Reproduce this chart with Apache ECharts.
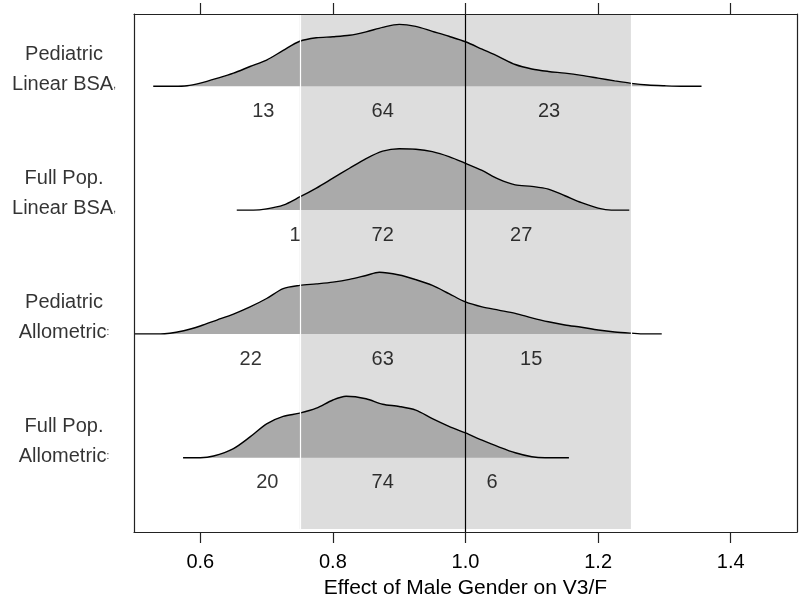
<!DOCTYPE html>
<html><head><meta charset="utf-8">
<script src="https://cdn.jsdelivr.net/npm/echarts@6/dist/echarts.min.js"></script>
<style>html,body{margin:0;padding:0;background:#fff}#c{width:800px;height:604px}</style>
</head><body><div id="c"></div>
<script>
// ---- data ----
const rowTop = ['Pediatric', 'Full Pop.', 'Pediatric', 'Full Pop.'];
const rowBottom = ['Linear BSA', 'Linear BSA', 'Allometric', 'Allometric'];
const rowSuffix = [',', ',', ':', ':'];

const densPedLinear = [[0.529,0],[0.56,0],[0.58,0.02],[0.60,0.13],[0.625,0.32],[0.65,0.53],[0.675,0.8],[0.70,1.06],[0.725,1.45],[0.75,1.82],[0.775,1.96],[0.80,2.0],[0.825,2.06],[0.85,2.2],[0.875,2.38],[0.90,2.5],[0.925,2.42],[0.95,2.22],[0.975,2.02],[1.0,1.8],[1.025,1.5],[1.05,1.2],[1.075,0.88],[1.10,0.7],[1.125,0.6],[1.15,0.53],[1.175,0.44],[1.20,0.33],[1.225,0.22],[1.25,0.12],[1.275,0.05],[1.30,0.02],[1.33,0],[1.356,0]];
const densFullLinear = [[0.655,0],[0.68,0],[0.70,0.05],[0.725,0.2],[0.75,0.53],[0.775,0.89],[0.80,1.29],[0.825,1.69],[0.85,2.08],[0.875,2.38],[0.90,2.48],[0.925,2.46],[0.95,2.36],[0.975,2.16],[1.0,1.89],[1.025,1.6],[1.05,1.25],[1.075,1.02],[1.10,0.96],[1.125,0.85],[1.15,0.58],[1.175,0.3],[1.20,0.08],[1.22,0],[1.247,0]];
const densPedAllo = [[0.5,0],[0.54,0],[0.575,0.13],[0.60,0.32],[0.625,0.56],[0.65,0.8],[0.675,1.09],[0.70,1.43],[0.725,1.83],[0.75,1.96],[0.775,2.02],[0.80,2.09],[0.825,2.2],[0.85,2.36],[0.87,2.49],[0.90,2.38],[0.925,2.19],[0.95,1.96],[0.975,1.63],[1.0,1.29],[1.025,1.09],[1.05,0.96],[1.075,0.83],[1.10,0.65],[1.125,0.49],[1.15,0.36],[1.175,0.27],[1.20,0.16],[1.225,0.08],[1.25,0.03],[1.27,0],[1.296,0]];
const densFullAllo = [[0.574,0],[0.60,0],[0.62,0.07],[0.65,0.37],[0.675,0.84],[0.70,1.37],[0.725,1.67],[0.75,1.8],[0.775,2.0],[0.80,2.33],[0.82,2.48],[0.85,2.38],[0.875,2.16],[0.90,2.07],[0.925,1.92],[0.95,1.58],[0.975,1.27],[1.0,1.0],[1.025,0.71],[1.05,0.44],[1.075,0.2],[1.10,0.04],[1.12,0],[1.156,0]];
const densities = [densPedLinear, densFullLinear, densPedAllo, densFullAllo];

const counts = [[13,64,23],[1,72,27],[22,63,15],[20,74,6]];
const countX = [[0.695,0.875,1.126],[0.743,0.875,1.084],[0.676,0.875,1.099],[0.701,0.875,1.040]];

const xTicks = [0.6, 0.8, 1.0, 1.2, 1.4];
const bandRange = [0.75, 1.25];
const refValue = 1.0;
const xTitle = 'Effect of Male Gender on V3/F';

// ---- layout ----
const FONT = 'Liberation Sans, Arial, sans-serif';
const Y_MAX = 20.92;
const baselines = [18, 13, 8, 3];

const series = [];
// band
series.push({
  type: 'line', data: [], z: 1, silent: true,
  markArea: { silent: true, itemStyle: { color: '#dddddd' },
    data: [[{ xAxis: bandRange[0], yAxis: 0.12 }, { xAxis: bandRange[1], yAxis: Y_MAX }]] }
});
// ridges
densities.forEach((d, i) => {
  const b = baselines[i];
  series.push({
    type: 'line', z: 2, silent: true, smooth: 0.3, symbol: 'none',
    data: d.map(p => [p[0], b + p[1]]),
    lineStyle: { color: '#000', width: 1.4 },
    areaStyle: { color: '#aaaaaa', opacity: 1, origin: b }
  });
});
// reference lines
series.push({
  type: 'line', data: [], z: 3, silent: true,
  markLine: { silent: true, symbol: 'none', label: { show: false },
    data: [
      { xAxis: bandRange[0], lineStyle: { color: '#ffffff', width: 1.2, type: 'solid' } },
      { xAxis: bandRange[1], lineStyle: { color: '#ffffff', width: 1.2, type: 'solid' } },
      { xAxis: refValue, lineStyle: { color: '#000', width: 1.2, type: 'solid' } }
    ] }
});
// count labels
const countData = [];
counts.forEach((row, i) => row.forEach((c, j) => countData.push([countX[i][j], baselines[i] - 1.02, c])));
series.push({
  type: 'scatter', z: 4, silent: true, symbolSize: 1, itemStyle: { color: 'rgba(0,0,0,0)' },
  data: countData,
  label: { show: true, position: 'inside', formatter: p => String(p.data[2]),
    fontSize: 20, color: '#000', fontFamily: FONT }
});
// row labels
series.push({
  type: 'scatter', z: 4, silent: true, clip: false, symbolSize: 1, itemStyle: { color: 'rgba(0,0,0,0)' },
  data: baselines.map((b, i) => [0.5, b + 0.66, i]),
  label: { show: true, position: 'inside', offset: [-70, 0], align: 'center',
    formatter: p => '{a|' + rowTop[p.data[2]] + '}\n{a|' + rowBottom[p.data[2]] + '}{p|' + rowSuffix[p.data[2]] + '}',
    rich: { a: { fontSize: 20, lineHeight: 30, color: '#000', fontFamily: FONT },
            p: { fontSize: 10, lineHeight: 30, color: '#000', fontFamily: FONT } } }
});

const axisLineStyle = { color: '#222', width: 1.2 };
const option = {
  animation: false,
  backgroundColor: '#fff',
  grid: { left: 134, right: 3, top: 14, bottom: 67, containLabel: false },
  xAxis: [
    { type: 'value', min: 0.5, max: 1.5, position: 'bottom', z: 10,
      axisLine: { show: true, onZero: false, lineStyle: axisLineStyle },
      axisTick: { show: true, customValues: xTicks, length: 11, lineStyle: axisLineStyle },
      axisLabel: { customValues: xTicks, formatter: v => v.toFixed(1), fontSize: 20, margin: 20, color: '#000', fontFamily: FONT },
      splitLine: { show: false },
      name: xTitle, nameLocation: 'middle', nameGap: 46,
      nameTextStyle: { fontSize: 21, color: '#000', fontFamily: FONT } },
    { type: 'value', min: 0.5, max: 1.5, position: 'top', z: 10,
      axisLine: { show: true, onZero: false, lineStyle: axisLineStyle },
      axisTick: { show: true, customValues: xTicks, length: 11, lineStyle: axisLineStyle },
      axisLabel: { show: false }, splitLine: { show: false } }
  ],
  yAxis: [
    { type: 'value', min: 0, max: Y_MAX, position: 'left', z: 10,
      axisLine: { show: true, onZero: false, lineStyle: axisLineStyle }, axisTick: { show: false },
      axisLabel: { show: false }, splitLine: { show: false } },
    { type: 'value', min: 0, max: Y_MAX, position: 'right', z: 10,
      axisLine: { show: true, onZero: false, lineStyle: axisLineStyle }, axisTick: { show: false },
      axisLabel: { show: false }, splitLine: { show: false } }
  ],
  series: series
};
const chart = echarts.init(document.getElementById('c'), null, { renderer: 'canvas' });
chart.setOption(option);
</script>
</body></html>
